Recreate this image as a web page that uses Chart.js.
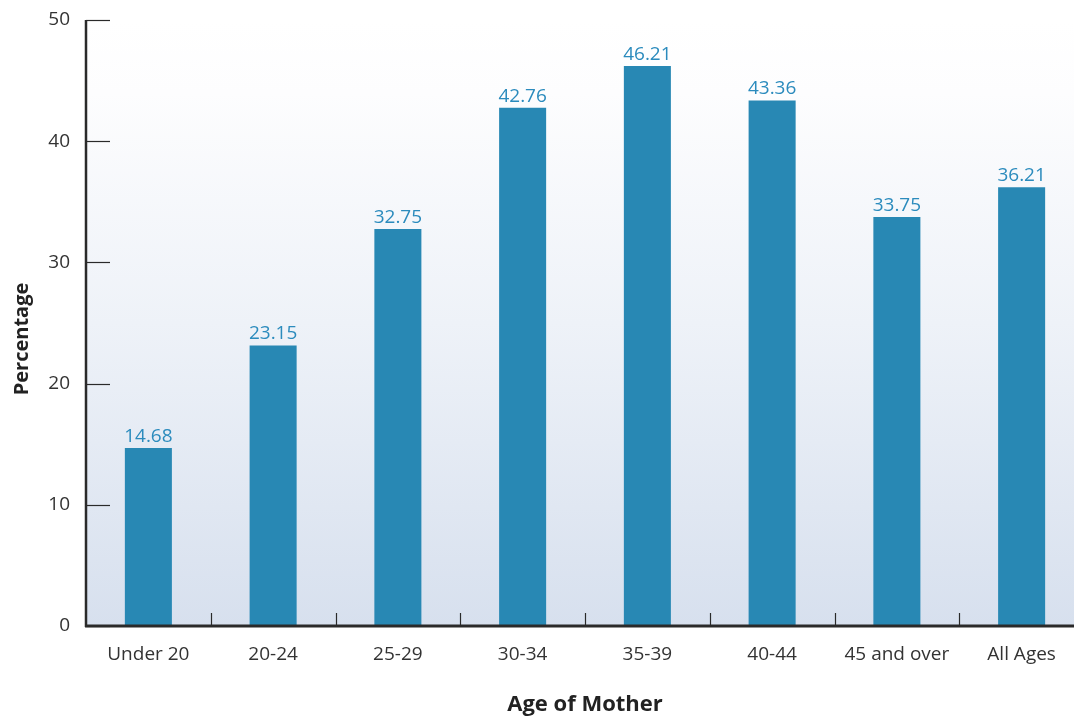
<!DOCTYPE html>
<html><head><meta charset="utf-8">
<script src="https://cdn.jsdelivr.net/npm/chart.js@4/dist/chart.umd.min.js"></script>
<style>html,body{margin:0;padding:0;background:#fff;overflow:hidden}#wrap{width:1084px;height:716px}</style>
</head><body><div id="wrap"><canvas id="c" width="1084" height="716"></canvas></div>
<script>
const categories = ["Under 20","20-24","25-29","30-34","35-39","40-44","45 and over","All Ages"];
const percentages = [14.68, 23.15, 32.75, 42.76, 46.21, 43.36, 33.75, 36.21];
const yTicks = [0,10,20,30,40,50];

const FONT = "'Open Sans', 'DejaVu Sans', sans-serif";

const bgPlugin = {
  id: 'bg',
  beforeDraw(chart) {
    const {ctx, chartArea: a} = chart;
    const g = ctx.createLinearGradient(0, a.top, 0, a.bottom);
    g.addColorStop(0, '#ffffff');
    g.addColorStop(0.12, '#fdfdfe');
    g.addColorStop(0.5, '#eef2f8');
    g.addColorStop(1, '#d7e0ee');
    ctx.save();
    ctx.fillStyle = g;
    ctx.fillRect(a.left, a.top, a.right - a.left, a.bottom - a.top);
    ctx.restore();
  },
  afterDatasetsDraw(chart) {
    const {ctx, chartArea: a, scales} = chart;
    const y = scales.y, x = scales.x;
    ctx.save();
    ctx.strokeStyle = '#2a2a2a';
    ctx.lineWidth = 1.2;
    yTicks.forEach(v => {
      const py = Math.round(y.getPixelForValue(v)) + 0.5;
      ctx.beginPath(); ctx.moveTo(a.left, py); ctx.lineTo(a.left + 24, py); ctx.stroke();
    });
    for (let i = 1; i < categories.length; i++) {
      const px = Math.round((x.getPixelForValue(i - 1) + x.getPixelForValue(i)) / 2) + 0.5;
      ctx.beginPath(); ctx.moveTo(px, a.bottom); ctx.lineTo(px, a.bottom - 13); ctx.stroke();
    }
    ctx.lineWidth = 2.5;
    ctx.beginPath(); ctx.moveTo(a.left, a.top); ctx.lineTo(a.left, a.bottom + 1); ctx.stroke();
    ctx.lineWidth = 3;
    ctx.beginPath(); ctx.moveTo(a.left - 1, a.bottom); ctx.lineTo(chart.width, a.bottom); ctx.stroke();
    // data labels
    ctx.fillStyle = '#2b8bbd';
    ctx.font = "19px " + FONT;
    ctx.textAlign = 'center';
    ctx.textBaseline = 'alphabetic';
    const meta = chart.getDatasetMeta(0);
    meta.data.forEach((bar, i) => {
      ctx.fillText(percentages[i].toFixed(2), bar.x, bar.y - 6);
    });
    // x axis title
    ctx.fillStyle = '#222';
    ctx.font = "bold 22px " + FONT;
    ctx.textBaseline = 'middle';
    ctx.fillText('Age of Mother', (a.left + a.right) / 2, 705);
    // y axis title
    ctx.translate(22, 339);
    ctx.rotate(-Math.PI / 2);
    ctx.font = "bold 20px " + FONT;
    ctx.fillText('Percentage', 0, 0);
    ctx.restore();
  }
};

new Chart(document.getElementById('c'), {
  type: 'bar',
  data: {
    labels: categories,
    datasets: [{
      data: percentages,
      backgroundColor: '#2888b4',
      barPercentage: 0.377,
      categoryPercentage: 1.0
    }]
  },
  options: {
    responsive: false,
    animation: false,
    layout: { padding: { top: 20, left: 0, right: 0, bottom: 0 } },
    plugins: { legend: { display: false }, tooltip: { enabled: false } },
    scales: {
      x: {
        grid: { display: false, drawTicks: false },
        border: { display: false },
        ticks: { color: '#333', font: { family: FONT, size: 19 }, padding: 17 },
        afterFit(s) { s.height = 90; s.paddingLeft = 0; s.paddingRight = 0; }
      },
      y: {
        min: 0, max: 50,
        afterBuildTicks(s) { s.ticks = yTicks.map(v => ({value: v})); },
        grid: { display: false, drawTicks: false },
        border: { display: false },
        ticks: { color: '#333', font: { family: FONT, size: 19 }, padding: 16 },
        afterFit(s) { s.width = 86; s.paddingTop = 0; s.paddingBottom = 0; }
      }
    }
  },
  plugins: [bgPlugin]
});
</script></body></html>
